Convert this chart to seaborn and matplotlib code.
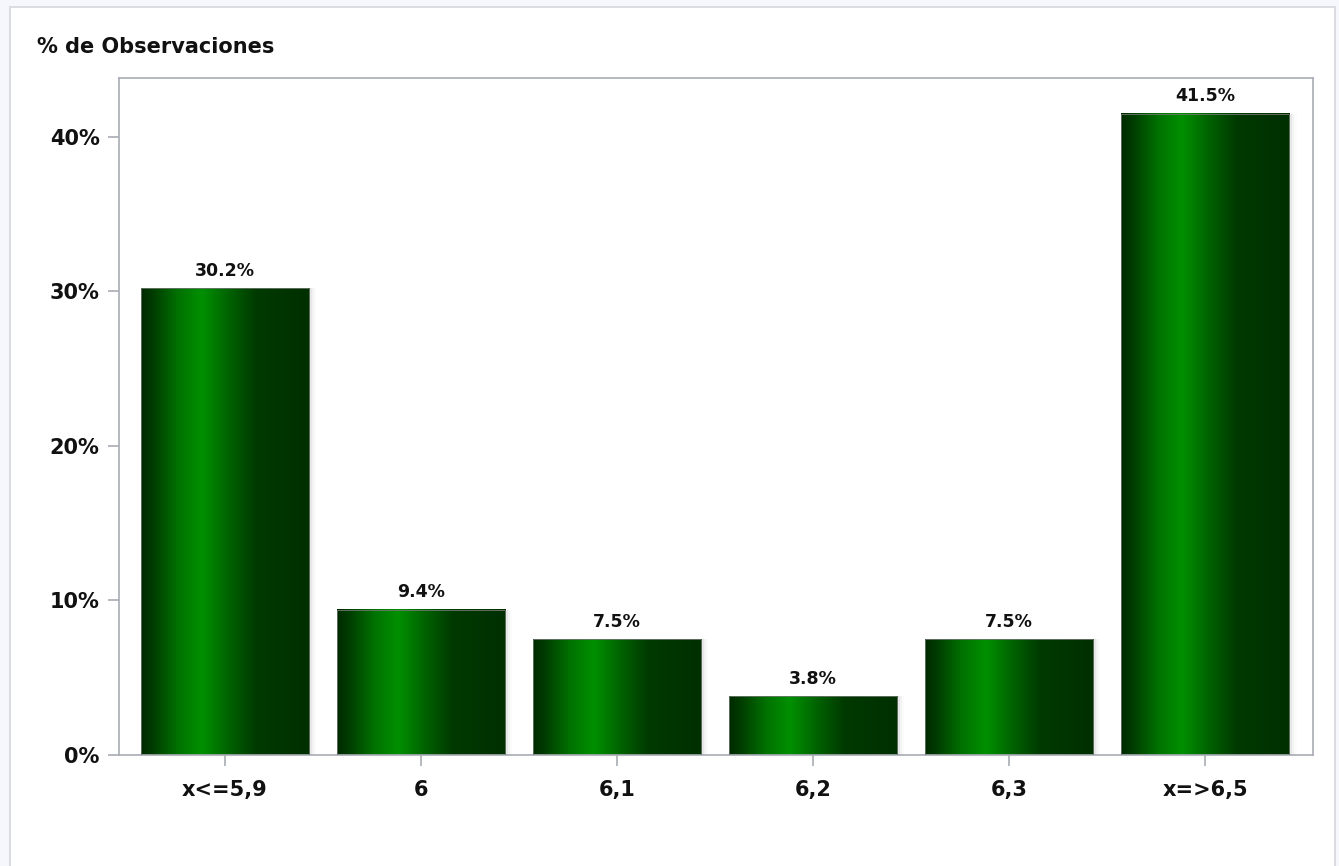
import matplotlib
matplotlib.use("Agg")
import matplotlib.pyplot as plt
import seaborn as sns
import numpy as np
import pandas as pd
from matplotlib.colors import LinearSegmentedColormap
from matplotlib.patches import Rectangle

# data
categories = ["x<=5,9", "6", "6,1", "6,2", "6,3", "x=>6,5"]
percent = [30.2, 9.4, 7.5, 3.8, 7.5, 41.5]
yticks = [0, 10, 20, 30, 40]

df = pd.DataFrame({"cat": categories, "pct": percent})

sns.set_theme(style="white")
plt.rcParams["font.family"] = ["DejaVu Sans"]

fig = plt.figure(figsize=(13.39, 8.66), dpi=100)
fig.patch.set_facecolor("#f5f7fc")

# white panel with thin border, behind the axes
fig.patches.append(Rectangle((10 / 1339, -0.01), 1325 / 1339, 1 - 7 / 866 + 0.01,
                             transform=fig.transFigure, facecolor="white",
                             edgecolor="#d4d6dc", linewidth=1.2, zorder=-10))

ax = fig.add_axes([119 / 1339, (866 - 755) / 866, (1313 - 119) / 1339, (755 - 78) / 866])
ax.set_zorder(5)

sns.barplot(data=df, x="cat", y="pct", ax=ax, width=0.86, color="#006000",
            saturation=1, edgecolor="none")

grad = LinearSegmentedColormap.from_list("bar", [
    (0.0, "#002a00"), (0.08, "#004000"), (0.22, "#007200"), (0.36, "#009000"),
    (0.5, "#006800"), (0.68, "#003a00"), (1.0, "#002f00")])
g = np.linspace(0, 1, 256).reshape(1, -1)

for p, v in zip(list(ax.patches), percent):
    x, w, h = p.get_x(), p.get_width(), p.get_height()
    # soft shadow to the right
    for k, a in enumerate([0.10, 0.06, 0.03]):
        ax.add_patch(Rectangle((x + w, 0), 0.012 * (k + 1), h, facecolor="#808080",
                               alpha=a, edgecolor="none", zorder=1))
    ax.imshow(g, cmap=grad, extent=[x, x + w, 0, h], aspect="auto", zorder=2,
              interpolation="bicubic")
    p.set_facecolor("none")
    p.set_edgecolor("#6d786d")
    p.set_linewidth(0.6)
    p.set_zorder(3)
    ax.text(x + w / 2, h + 0.55, f"{v}%", ha="center", va="bottom",
            fontsize=12.5, fontweight="bold", color="#111111")

ax.set_xlim(-0.54, 5.55)
ax.set_ylim(0, 43.8)
ax.set_yticks(yticks)
ax.set_yticklabels([f"{t}%" for t in yticks])
ax.set_xlabel("")
ax.set_ylabel("")
ax.tick_params(axis="both", direction="out", length=8, width=1.2, color="#a8acb4",
               labelsize=15, labelcolor="#111111", pad=6)
ax.tick_params(axis="x", pad=10)
ax.tick_params(left=True, bottom=True)
for lab in ax.get_xticklabels() + ax.get_yticklabels():
    lab.set_fontweight("bold")
for s in ax.spines.values():
    s.set_color("#a8acb4")
    s.set_linewidth(1.2)
ax.set_facecolor("white")

fig.text(37 / 1339, 1 - 47 / 866, "% de Observaciones", ha="left", va="center",
         fontsize=15, fontweight="bold", color="#111111")

fig.savefig("out.png", dpi=100, facecolor=fig.get_facecolor())
